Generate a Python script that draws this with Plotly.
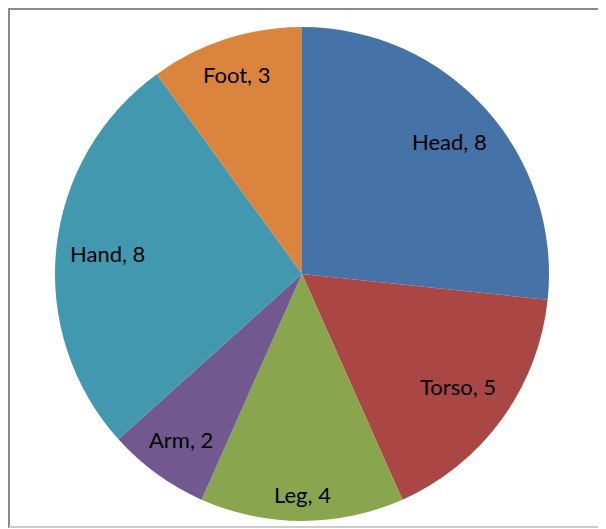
import math
import plotly.graph_objects as go

categories = ["Head", "Torso", "Leg", "Arm", "Hand", "Foot"]
values = [8, 5, 4, 2, 8, 3]
colors = ["#4572A7", "#AA4643", "#89A54E", "#71588F", "#4198AF", "#DB843D"]

# the page body has an 8px margin, so the figure is laid out in its own coordinates
W, H = 598, 520
cx, cy, r = 294, 266, 247
FONT = "Lato, Liberation Sans, sans-serif"
FS = 22

labels_text = [f"{c}, {v}" for c, v in zip(categories, values)]

fig = go.Figure(go.Pie(
    labels=categories,
    values=values,
    textinfo="none",
    sort=False,
    direction="clockwise",
    rotation=0,
    marker=dict(colors=colors, line=dict(width=0)),
    showlegend=False,
    hoverinfo="label+value",
    domain=dict(x=[(cx - r) / W, (cx + r) / W], y=[(H - cy - r) / H, (H - cy + r) / H]),
))

# data labels placed inside each slice along its middle angle (Excel style)
total = sum(values)
annotations = []
start = 0.0
for txt, v in zip(labels_text, values):
    mid = (start + v / 2) / total * 2 * math.pi
    start += v
    sx, sy = math.sin(mid), -math.cos(mid)
    hw = 0.5 * 0.48 * FS * len(txt)
    hh = 0.5 * 1.0 * FS
    rin = 0.945 * r
    ax_, ay_ = abs(sx), abs(sy)
    # solve (t*ax + hw)^2 + (t*ay + hh)^2 = rin^2 for t
    a = ax_ ** 2 + ay_ ** 2
    b = 2 * (ax_ * hw + ay_ * hh)
    c = hw ** 2 + hh ** 2 - rin ** 2
    t = (-b + math.sqrt(b * b - 4 * a * c)) / (2 * a)
    px, py = cx + t * sx, cy + t * sy
    annotations.append(dict(
        x=px / W, y=1 - py / H, xref="paper", yref="paper",
        text=txt, showarrow=False, xanchor="center", yanchor="middle",
        font=dict(family=FONT, size=FS, color="#000000"),
    ))

fig.update_layout(
    width=W, height=H,
    margin=dict(l=0, r=0, t=0, b=0),
    paper_bgcolor="white",
    plot_bgcolor="white",
    annotations=annotations,
    shapes=[
        dict(type="line", xref="paper", yref="paper", x0=1 / W, x1=1 / W, y0=1, y1=0,
             line=dict(color="#8a8a8a", width=2)),
        dict(type="line", xref="paper", yref="paper", x0=0, x1=1, y0=1 - 1 / H, y1=1 - 1 / H,
             line=dict(color="#8a8a8a", width=2)),
        dict(type="line", xref="paper", yref="paper", x0=1 / W, x1=1, y0=1 / H, y1=1 / H,
             line=dict(color="#cccccc", width=2)),
    ],
)

fig.write_html("out.html")
